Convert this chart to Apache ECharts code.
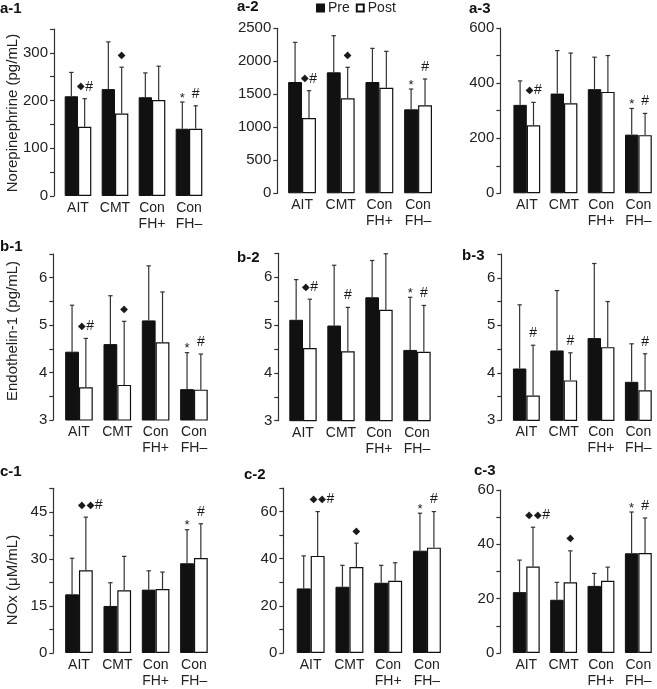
<!DOCTYPE html>
<html><head><meta charset="utf-8">
<script src="https://cdn.jsdelivr.net/npm/echarts@6/dist/echarts.min.js"></script>
<style>html,body{margin:0;padding:0;background:#fff}#c{width:657px;height:689px}</style>
</head><body><div id="c"></div>
<script>
const categories = ['AIT', 'CMT', 'Con\nFH+', 'Con\nFH\u2013'];
const panelNames = ['a-1', 'a-2', 'a-3', 'b-1', 'b-2', 'b-3', 'c-1', 'c-2', 'c-3'];
const rowTitles = ['Norepinephrine (pg/mL)', 'Endothelin-1 (pg/mL)', 'NOx (\u03bcM/mL)'];
const seriesNames = ['Pre', 'Post'];

// a-1 Norepinephrine, visit 1
const a1Pre = [209, 224, 207, 141];
const a1PreSD = [50, 99, 51, 56];
const a1Post = [145, 173, 201, 141];
const a1PostSD = [59, 97, 71, 48];
// a-2
const a2Pre = [1686, 1833, 1686, 1272];
const a2PreSD = [601, 555, 510, 308];
const a2Post = [1141, 1440, 1600, 1333];
const a2PostSD = [414, 469, 551, 399];
// a-3
const a3Pre = [321, 362, 378, 213];
const a3PreSD = [87, 156, 116, 95];
const a3Post = [247, 327, 368, 211];
const a3PostSD = [83, 182, 132, 79];
// b-1 Endothelin-1
const b1Pre = [4.44, 4.60, 5.10, 3.65];
const b1PreSD = [0.98, 1.02, 1.15, 0.77];
const b1Post = [3.69, 3.74, 4.64, 3.64];
const b1PostSD = [1.03, 1.34, 1.06, 0.75];
// b-2
const b2Pre = [5.11, 4.99, 5.58, 4.48];
const b2PreSD = [0.84, 1.26, 0.77, 1.10];
const b2Post = [4.52, 4.45, 5.32, 4.44];
const b2PostSD = [1.02, 0.92, 1.17, 0.97];
// b-3
const b3Pre = [4.09, 4.47, 4.73, 3.81];
const b3PreSD = [1.34, 1.26, 1.57, 0.80];
const b3Post = [3.52, 3.84, 4.54, 3.63];
const b3PostSD = [1.06, 0.58, 0.96, 0.77];
// c-1 NOx
const c1Pre = [18.7, 15.0, 20.2, 28.6];
const c1PreSD = [11.5, 7.4, 6.0, 10.7];
const c1Post = [26.4, 20.0, 20.4, 30.3];
const c1PostSD = [16.9, 10.8, 5.4, 10.9];
// c-2
const c2Pre = [27.4, 28.1, 29.8, 43.4];
const c2PreSD = [13.8, 9.1, 7.4, 15.9];
const c2Post = [41.2, 36.5, 30.6, 44.7];
const c2PostSD = [18.8, 10.1, 7.7, 15.3];
// c-3
const c3Pre = [22.4, 19.6, 24.7, 36.7];
const c3PreSD = [11.8, 6.4, 4.6, 15.2];
const c3Post = [31.8, 26.0, 26.6, 36.8];
const c3PostSD = [14.5, 11.6, 5.0, 12.9];

// significance marks
const a1PreMark = ['', '', '', '*'];
const a1PostMark = ['\u25c6#', '\u25c6', '', '#'];
const a2PreMark = ['', '', '', '*'];
const a2PostMark = ['\u25c6#', '\u25c6', '', '#'];
const a3PreMark = ['', '', '', '*'];
const a3PostMark = ['\u25c6#', '', '', '#'];
const b1PreMark = ['', '', '', '*'];
const b1PostMark = ['\u25c6#', '\u25c6', '', '#'];
const b2PreMark = ['', '', '', '*'];
const b2PostMark = ['\u25c6#', '#', '', '#'];
const b3PreMark = ['', '', '', ''];
const b3PostMark = ['#', '#', '', '#'];
const c1PreMark = ['', '', '', '*'];
const c1PostMark = ['\u25c6\u25c6#', '', '', '#'];
const c2PreMark = ['', '', '', '*'];
const c2PostMark = ['\u25c6\u25c6#', '\u25c6', '', '#'];
const c3PreMark = ['', '', '', '*'];
const c3PostMark = ['\u25c6\u25c6#', '\u25c6', '', '#'];

// axis scales
const yMin = [0, 0, 0, 3, 3, 3, 0, 0, 0];
const yMax = [350, 2500, 600, 6.5, 6.5, 6.5, 52.5, 70, 60];
const yTickStep = [50, 500, 100, 0.5, 0.5, 0.5, 7.5, 10, 10];
const yLabelStep = [100, 500, 200, 1, 1, 1, 15, 20, 20];

const panels = [
  [a1Pre, a1PreSD, a1Post, a1PostSD, a1PreMark, a1PostMark],
  [a2Pre, a2PreSD, a2Post, a2PostSD, a2PreMark, a2PostMark],
  [a3Pre, a3PreSD, a3Post, a3PostSD, a3PreMark, a3PostMark],
  [b1Pre, b1PreSD, b1Post, b1PostSD, b1PreMark, b1PostMark],
  [b2Pre, b2PreSD, b2Post, b2PostSD, b2PreMark, b2PostMark],
  [b3Pre, b3PreSD, b3Post, b3PostSD, b3PreMark, b3PostMark],
  [c1Pre, c1PreSD, c1Post, c1PostSD, c1PreMark, c1PostMark],
  [c2Pre, c2PreSD, c2Post, c2PostSD, c2PreMark, c2PostMark],
  [c3Pre, c3PreSD, c3Post, c3PostSD, c3PreMark, c3PostMark]
];

// layout (pixels): grid left, top, width, height, y-axis line x
const layout = [
  {l: 59.5, t: 29, w: 148, h: 167, ax: 54},
  {l: 282.7, t: 28.3, w: 154.7, h: 165, ax: 277.3},
  {l: 508.2, t: 28, w: 151, h: 165.3, ax: 500.3},
  {l: 59.8, t: 254, w: 153.3, h: 166, ax: 53.3},
  {l: 284, t: 253.3, w: 152, h: 167.4, ax: 278.3},
  {l: 507.7, t: 254, w: 154.7, h: 166.3, ax: 501.3},
  {l: 59.8, t: 488.3, w: 153.3, h: 167.7, ax: 53.3},
  {l: 291.3, t: 488, w: 155, h: 167.7, ax: 283.3},
  {l: 507.6, t: 490, w: 155.5, h: 166.3, ax: 500.3}
];
const titlePos = [[0, 9], [237, 7], [469, 9], [0, 247], [237, 258], [462, 256], [0, 472], [244, 475], [474, 471]];
const rowTitleY = [113, 331, 580];

const FONT = '"Liberation Sans", Arial, Helvetica, sans-serif';
const CAT_GAP = 0.28;
const markRich = {
  d: {fontSize: 10, fontFamily: '"DejaVu Sans", sans-serif', fill: '#1a1a1a', padding: [0, 0.5, 0, 0.5]},
  h: {fontSize: 14, fontFamily: '"Liberation Sans", sans-serif', fill: '#1a1a1a'},
  s: {fontSize: 13, fontFamily: '"Liberation Sans", sans-serif', fill: '#1a1a1a'}
};
const toRich = m => m.split('').map(ch => ch === '\u25c6' ? '{d|\u25c6}' : ch === '#' ? '{h|#}' : '{s|' + ch + '}').join('');

const grids = [], xAxes = [], yAxes = [], series = [], graphics = [];

panels.forEach((p, i) => {
  const L = layout[i];
  grids.push({left: L.l, top: L.t, width: L.w, height: L.h, containLabel: false});
  xAxes.push({
    type: 'category', gridIndex: i, data: categories,
    axisLine: {show: false}, axisTick: {show: false}, splitLine: {show: false},
    axisLabel: {color: '#222', fontSize: 14, fontFamily: FONT, margin: 4, lineHeight: 16, interval: 0}
  });
  const step = yLabelStep[i];
  yAxes.push({
    type: 'value', gridIndex: i, min: yMin[i], max: yMax[i], interval: yTickStep[i],
    offset: L.l - L.ax,
    axisLine: {show: true, lineStyle: {color: '#333', width: 1.2}},
    axisTick: {show: true, length: 4, lineStyle: {color: '#333', width: 1.2}},
    splitLine: {show: false},
    axisLabel: {
      color: '#222', fontSize: 15, fontFamily: FONT, margin: 6,
      formatter: v => {
        const r = v / step;
        return Math.abs(r - Math.round(r)) < 1e-6 ? String(v) : '';
      }
    }
  });
  const [pre, preSD, post, postSD, preMark, postMark] = p;
  series.push({
    name: 'Pre', type: 'bar', xAxisIndex: i, yAxisIndex: i, data: pre,
    barGap: '0%', barCategoryGap: (CAT_GAP * 100) + '%',
    itemStyle: {color: '#111111', borderColor: '#111111', borderWidth: 1}
  });
  series.push({
    name: 'Post', type: 'bar', xAxisIndex: i, yAxisIndex: i, data: post,
    barGap: '0%', barCategoryGap: (CAT_GAP * 100) + '%',
    itemStyle: {color: '#ffffff', borderColor: '#111111', borderWidth: 1.2}
  });
  const errData = [], marks = [];
  categories.forEach((c, j) => {
    errData.push([j, pre[j], pre[j] + preSD[j], 0]); marks.push(preMark[j]);
    errData.push([j, post[j], post[j] + postSD[j], 1]); marks.push(postMark[j]);
  });
  series.push({
    type: 'custom', xAxisIndex: i, yAxisIndex: i, data: errData, clip: false, z: 5,
    silent: true,
    encode: {x: 0, y: [1, 2]},
    renderItem: (params, api) => {
      const j = api.value(0), side = api.value(3);
      const base = api.coord([j, api.value(1)]);
      const top = api.coord([j, api.value(2)]);
      const catW = api.size([1, 0])[0];
      const bw = catW * (1 - CAT_GAP) / 2;
      const x = base[0] + (side === 0 ? -bw / 2 : bw / 2);
      const children = [
        {type: 'line', shape: {x1: x, y1: base[1], x2: x, y2: top[1]}, style: {stroke: '#333', lineWidth: 1.2}},
        {type: 'line', shape: {x1: x - 2.2, y1: top[1], x2: x + 2.2, y2: top[1]}, style: {stroke: '#333', lineWidth: 1.2}}
      ];
      const m = marks[params.dataIndex];
      if (m) {
        const multi = m.length > 1;
        const star = m === '*';
        children.push({
          type: 'text',
          style: {
            text: toRich(m), rich: markRich,
            x: multi ? x - bw / 2 - 1.5 : x, y: top[1] - (star ? 4 : 12),
            textAlign: multi ? 'left' : 'center', textVerticalAlign: 'middle'
          }
        });
      }
      return {type: 'group', children};
    }
  });
  graphics.push({
    type: 'text', left: titlePos[i][0], top: titlePos[i][1] - 8,
    style: {text: panelNames[i], font: 'bold 15px ' + FONT, fill: '#111'}
  });
});

rowTitles.forEach((t, r) => {
  graphics.push({
    type: 'text', x: 13, y: rowTitleY[r], rotation: Math.PI / 2,
    style: {text: t, font: '15px ' + FONT, fill: '#222', textAlign: 'center', textVerticalAlign: 'middle'}
  });
});

const chart = echarts.init(document.getElementById('c'), null, {renderer: 'canvas'});
chart.setOption({
  animation: false,
  backgroundColor: '#fff',
  legend: {
    data: seriesNames, left: 316, top: 1, padding: 0, itemGap: 6,
    icon: 'rect', itemWidth: 7, itemHeight: 7,
    textStyle: {fontSize: 14, fontFamily: FONT, color: '#222', padding: [0, 0, 0, -1]},
    selectedMode: false
  },
  grid: grids, xAxis: xAxes, yAxis: yAxes, series, graphic: graphics
});
</script></body></html>
